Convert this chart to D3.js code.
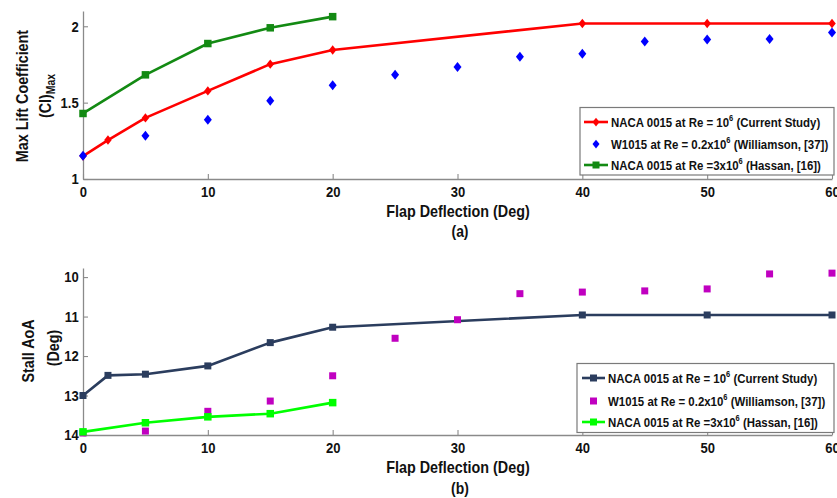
<!DOCTYPE html>
<html>
<head>
<meta charset="utf-8">
<script src="https://cdn.jsdelivr.net/npm/d3@7"></script>
<style>
  html, body { margin: 0; padding: 0; background: #fff; }
  svg { display: block; }
  text { font-family: "Liberation Sans", Arial, sans-serif; font-weight: bold; }
</style>
</head>
<body>
<svg id="chart" width="837" height="498"></svg>
<script>
// Flap deflection (deg) for each data set
const flapCurrent = [0, 2, 5, 10, 15, 20, 40, 50, 60];
const flapWilliamson = [0, 5, 10, 15, 20, 25, 30, 35, 40, 45, 50, 55, 60];
const flapHassan = [0, 5, 10, 15, 20];

// (a) maximum lift coefficient
const clmaxCurrent = [1.15, 1.255, 1.40, 1.577, 1.752, 1.845, 2.018, 2.018, 2.018];
const clmaxWilliamson = [1.152, 1.283, 1.388, 1.512, 1.614, 1.682, 1.734, 1.80, 1.82, 1.90, 1.913, 1.917, 1.96];
const clmaxHassan = [1.429, 1.682, 1.887, 1.99, 2.063];

// (b) stall angle of attack (deg)
const stallCurrent = [13.0, 12.49, 12.46, 12.25, 11.66, 11.27, 10.96, 10.96, 10.96];
const stallWilliamson = [13.95, 13.9, 13.4, 13.14, 12.5, 11.55, 11.08, 10.42, 10.38, 10.35, 10.30, 9.92, 9.90];
const stallHassan = [13.92, 13.69, 13.54, 13.46, 13.18];

const xTicks = [0, 10, 20, 30, 40, 50, 60];
const clTicks = [1, 1.5, 2];
const stallTicks = [10, 11, 12, 13, 14];

const legendA = [
  { pre: "NACA 0015 at Re = 10", sup: "6", post: " (Current Study)", color: "#ff0000", line: true, shape: "diamond" },
  { pre: "W1015 at Re = 0.2x10", sup: "6", post: " (Williamson, [37])", color: "#0000ff", line: false, shape: "diamond" },
  { pre: "NACA 0015 at Re =3x10", sup: "6", post: " (Hassan, [16])", color: "#138a13", line: true, shape: "square" }
];
const legendB = [
  { pre: "NACA 0015 at Re = 10", sup: "6", post: " (Current Study)", color: "#2b3d5e", line: true, shape: "square" },
  { pre: "W1015 at Re = 0.2x10", sup: "6", post: " (Williamson, [37])", color: "#c000c0", line: false, shape: "square" },
  { pre: "NACA 0015 at Re =3x10", sup: "6", post: " (Hassan, [16])", color: "#00ff00", line: true, shape: "square" }
];

const svg = d3.select("#chart");
const AXIS = "#8a8a8a";
const SQUEEZE = 0.87;

const x = d3.scaleLinear().domain([0, 60]).range([83, 832]);
const yA = d3.scaleLinear().domain([1, 2.1]).range([179, 11]);
const yB = d3.scaleLinear().domain([14, 9.77]).range([435, 268]);

function diamondPath(w, h) {
  return `M0,${-h / 2}L${w / 2},0L0,${h / 2}L${-w / 2},0Z`;
}
function squarePath(s) {
  return `M${-s / 2},${-s / 2}h${s}v${s}h${-s}Z`;
}
function markerPath(shape, size) {
  return shape === "diamond" ? diamondPath(size, size * 1.25) : squarePath(size);
}

// Condensed bold label, optionally rotated
function label(x0, y0, txt, size, rotate = 0) {
  const g = svg.append("g")
    .attr("transform", `translate(${x0},${y0}) rotate(${rotate}) scale(${SQUEEZE},1)`);
  const t = g.append("text")
    .attr("text-anchor", "middle")
    .attr("dominant-baseline", "central")
    .attr("font-size", size)
    .attr("fill", "#111");
  return t.text(txt);
}

function drawAxes(yScale, yTickValues, yFormat) {
  const gx = svg.append("g")
    .attr("transform", `translate(0,${yScale.range()[0]})`)
    .call(d3.axisBottom(x).tickValues(xTicks).tickSize(-5).tickSizeOuter(0).tickPadding(7));
  const gy = svg.append("g")
    .attr("transform", `translate(${x.range()[0]},0)`)
    .call(d3.axisLeft(yScale).tickValues(yTickValues).tickFormat(yFormat).tickSize(-5).tickSizeOuter(0).tickPadding(5));
  [gx, gy].forEach(g => {
    g.select(".domain").attr("stroke", AXIS).attr("stroke-width", 1.3);
    g.selectAll(".tick line").attr("stroke", AXIS).attr("stroke-width", 1.1);
    g.selectAll(".tick text")
      .attr("font-size", 15)
      .attr("font-family", "'Liberation Sans', Arial, sans-serif")
      .attr("font-weight", "bold")
      .attr("fill", "#111");
  });
  gx.selectAll(".tick text").attr("transform", `scale(${SQUEEZE},1)`);
  gy.selectAll(".tick text").attr("transform", `scale(${SQUEEZE},1)`);
}

function drawLine(xs, ys, yScale, color) {
  const pts = xs.map((d, i) => [d, ys[i]]);
  svg.append("path")
    .datum(pts)
    .attr("fill", "none")
    .attr("stroke", color)
    .attr("stroke-width", 2.6)
    .attr("stroke-linejoin", "round")
    .attr("d", d3.line().x(d => x(d[0])).y(d => yScale(d[1])));
}

function drawMarkers(xs, ys, yScale, color, shape, size) {
  const pts = xs.map((d, i) => [d, ys[i]]);
  svg.append("g").selectAll("path")
    .data(pts)
    .join("path")
    .attr("transform", d => `translate(${x(d[0])},${yScale(d[1])})`)
    .attr("d", markerPath(shape, size))
    .attr("fill", color);
}

function drawLegend(items, box, rowYs, lineX0, lineX1, textX) {
  svg.append("rect")
    .attr("x", box[0]).attr("y", box[1])
    .attr("width", box[2]).attr("height", box[3])
    .attr("fill", "#fff")
    .attr("stroke", "#7a7a7a")
    .attr("stroke-width", 1.2);
  items.forEach((it, i) => {
    const cy = rowYs[i];
    const cx = (lineX0 + lineX1) / 2;
    if (it.line) {
      svg.append("line")
        .attr("x1", lineX0).attr("x2", lineX1)
        .attr("y1", cy).attr("y2", cy)
        .attr("stroke", it.color).attr("stroke-width", 2.6);
    }
    svg.append("path")
      .attr("transform", `translate(${cx},${cy})`)
      .attr("d", markerPath(it.shape, 7))
      .attr("fill", it.color);
    const t = svg.append("g")
      .attr("transform", `translate(${textX},${cy + 4.8}) scale(0.88,1)`)
      .append("text")
      .attr("font-size", 13)
      .attr("fill", "#111");
    t.append("tspan").text(it.pre);
    t.append("tspan").attr("font-size", 8.5).attr("dy", -6).text(it.sup);
    t.append("tspan").attr("dy", 6).text(it.post);
  });
}

// ---- (a) Max lift coefficient ----
drawAxes(yA, clTicks, d3.format("~g"));
drawLine(flapCurrent, clmaxCurrent, yA, "#ff0000");
drawMarkers(flapCurrent, clmaxCurrent, yA, "#ff0000", "diamond", 7.5);
drawMarkers(flapWilliamson, clmaxWilliamson, yA, "#0000ff", "diamond", 8);
drawLine(flapHassan, clmaxHassan, yA, "#138a13");
drawMarkers(flapHassan, clmaxHassan, yA, "#138a13", "square", 7.5);
drawLegend(legendA, [580, 107.5, 254, 67.5], [122, 144, 165], 584, 608, 611);

label(458, 211, "Flap Deflection (Deg)", 16.5);
label(460, 231, "(a)", 16);
label(22, 96, "Max Lift Coefficient", 16.5, -90);
{
  const g = svg.append("g").attr("transform", `translate(45,96) rotate(-90) scale(${SQUEEZE},1)`);
  const t = g.append("text").attr("text-anchor", "middle").attr("dominant-baseline", "central")
    .attr("font-size", 16.5).attr("fill", "#111");
  t.append("tspan").text("(Cl)");
  t.append("tspan").attr("font-size", 12).attr("dy", 6).text("Max");
}

// ---- (b) Stall angle of attack ----
drawAxes(yB, stallTicks, d3.format("d"));
drawLine(flapCurrent, stallCurrent, yB, "#2b3d5e");
drawMarkers(flapCurrent, stallCurrent, yB, "#2b3d5e", "square", 7);
drawMarkers(flapWilliamson, stallWilliamson, yB, "#c000c0", "square", 7);
drawLine(flapHassan, stallHassan, yB, "#00ff00");
drawMarkers(flapHassan, stallHassan, yB, "#00ff00", "square", 7.5);
drawLegend(legendB, [577, 363.5, 257, 69], [378, 401, 422], 582, 605, 608);

label(458, 467, "Flap Deflection (Deg)", 16.5);
label(460, 488, "(b)", 16);
label(28, 351, "Stall AoA", 16.5, -90);
label(53, 348, "(Deg)", 16.5, -90);
</script>
</body>
</html>
